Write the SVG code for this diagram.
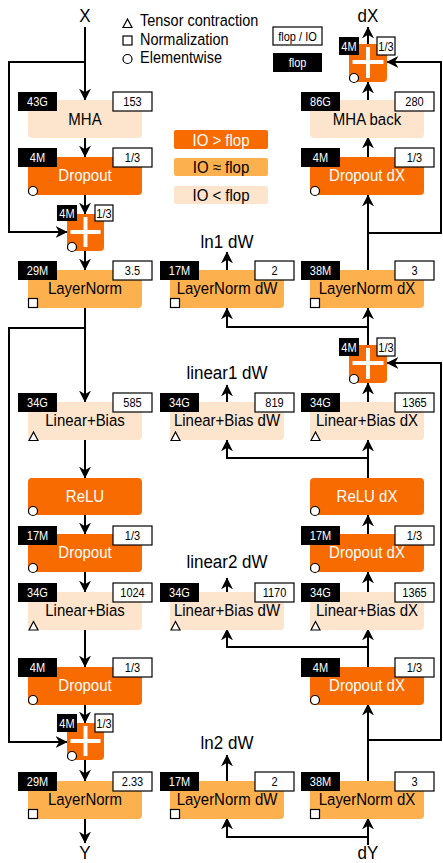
<svg xmlns="http://www.w3.org/2000/svg" width="443" height="863" viewBox="0 0 443 863">
<style>
text{font-family:"Liberation Sans",Arial,sans-serif;}
.hi{fill:#F76B00;}
.mid{fill:#FDB14E;}
.lo{fill:#FDE4CC;}
.nt{font-size:15px;text-anchor:middle;fill:#000;}
.nw{font-size:15px;text-anchor:middle;fill:#fff;}
.bl{fill:#000;}
.wl{fill:#fff;stroke:#000;stroke-width:1.2;}
.lt{font-size:11px;text-anchor:middle;}
.lw{fill:#fff;}
.lb{fill:#000;}
.mk{fill:#fff;stroke:#000;stroke-width:1.2;}
.plus{stroke:#fff;stroke-width:4;}
.c{fill:none;stroke:#000;stroke-width:2;}
.big{font-size:17px;text-anchor:middle;fill:#000;}
.leg{font-size:14.5px;fill:#000;}
</style>
<defs>
<marker id="ah" viewBox="0 0 10 10" refX="9.5" refY="5" markerWidth="12" markerHeight="12" markerUnits="userSpaceOnUse" orient="auto">
<path d="M0,0 L10,5 L0,10 L3,5 z" fill="#000"/>
</marker>
</defs>

<g id="legend">
<polygon class="mk" points="123,27.5 132,27.5 127.5,19"/>
<text class="leg" transform="translate(140,26) scale(1,1.12)">Tensor contraction</text>
<rect class="mk" x="123" y="36" width="9" height="9"/>
<text class="leg" transform="translate(140,45) scale(1,1.12)">Normalization</text>
<circle class="mk" cx="127.5" cy="59" r="4.5"/>
<text class="leg" transform="translate(140,63) scale(1,1.12)">Elementwise</text>
<rect class="wl" x="273" y="27" width="49" height="18"/>
<text class="lt lb" transform="translate(297.5,40.5) scale(1,1.15)">flop / IO</text>
<rect class="bl" x="273" y="53" width="49" height="19"/>
<text class="lt lw" transform="translate(297.5,67) scale(1,1.15)">flop</text>
<rect class="hi" x="174" y="130" width="94" height="19" rx="2"/>
<text class="nw" transform="translate(221,145.5) scale(1,1.12)">IO &gt; flop</text>
<rect class="mid" x="174" y="158" width="94" height="18" rx="2"/>
<text class="nt" transform="translate(221,173) scale(1,1.12)">IO ≈ flop</text>
<rect class="lo" x="174" y="186" width="94" height="18" rx="2"/>
<text class="nt" transform="translate(221,201) scale(1,1.12)">IO &lt; flop</text>
</g>

<g id="io-labels">
<text class="big" transform="translate(85,22) scale(1,1.12)">X</text>
<text class="big" transform="translate(85,859) scale(1,1.08)">Y</text>
<text class="big" transform="translate(368,22) scale(1,1.12)">dX</text>
<text class="big" transform="translate(368,859) scale(1,1.08)">dY</text>
<text class="big" transform="translate(227,248) scale(1,1.12)">ln1 dW</text>
<text class="big" transform="translate(227,379) scale(1,1.12)">linear1 dW</text>
<text class="big" transform="translate(227,568) scale(1,1.12)">linear2 dW</text>
<text class="big" transform="translate(227,749) scale(1,1.12)">ln2 dW</text>
</g>

<g id="connectors">
<line class="c" x1="85" y1="27" x2="85" y2="100" marker-end="url(#ah)"/>
<polyline class="c" points="85,62 9,62 9,232 67,232" marker-end="url(#ah)"/>
<line class="c" x1="85" y1="138" x2="85" y2="157" marker-end="url(#ah)"/>
<line class="c" x1="85" y1="195" x2="85" y2="214" marker-end="url(#ah)"/>
<line class="c" x1="85" y1="251" x2="85" y2="270" marker-end="url(#ah)"/>
<line class="c" x1="85" y1="308" x2="85" y2="402" marker-end="url(#ah)"/>
<polyline class="c" points="85,328 9,328 9,742 67,742" marker-end="url(#ah)"/>
<line class="c" x1="85" y1="440" x2="85" y2="478" marker-end="url(#ah)"/>
<line class="c" x1="85" y1="515" x2="85" y2="534" marker-end="url(#ah)"/>
<line class="c" x1="85" y1="572" x2="85" y2="592" marker-end="url(#ah)"/>
<line class="c" x1="85" y1="629" x2="85" y2="667" marker-end="url(#ah)"/>
<line class="c" x1="85" y1="704" x2="85" y2="723" marker-end="url(#ah)"/>
<line class="c" x1="85" y1="760" x2="85" y2="781" marker-end="url(#ah)"/>
<line class="c" x1="85" y1="818" x2="85" y2="843" marker-end="url(#ah)"/>

<line class="c" x1="227" y1="270" x2="227" y2="252" marker-end="url(#ah)"/>
<polyline class="c" points="368,327 227,327 227,308" marker-end="url(#ah)"/>
<line class="c" x1="227" y1="402" x2="227" y2="385" marker-end="url(#ah)"/>
<polyline class="c" points="368,458 227,458 227,440" marker-end="url(#ah)"/>
<line class="c" x1="227" y1="592" x2="227" y2="578" marker-end="url(#ah)"/>
<polyline class="c" points="368,647 227,647 227,629" marker-end="url(#ah)"/>
<line class="c" x1="227" y1="781" x2="227" y2="755" marker-end="url(#ah)"/>
<polyline class="c" points="368,837 227,837 227,818" marker-end="url(#ah)"/>

<line class="c" x1="368" y1="44" x2="368" y2="27" marker-end="url(#ah)"/>
<line class="c" x1="368" y1="100" x2="368" y2="82" marker-end="url(#ah)"/>
<line class="c" x1="368" y1="157" x2="368" y2="137" marker-end="url(#ah)"/>
<line class="c" x1="368" y1="270" x2="368" y2="195" marker-end="url(#ah)"/>
<polyline class="c" points="368,233 441,233 441,62 387,62" marker-end="url(#ah)"/>
<line class="c" x1="368" y1="345" x2="368" y2="308" marker-end="url(#ah)"/>
<line class="c" x1="368" y1="402" x2="368" y2="383" marker-end="url(#ah)"/>
<polyline class="c" points="368,740 441,740 441,363 387,363" marker-end="url(#ah)"/>
<line class="c" x1="368" y1="478" x2="368" y2="440" marker-end="url(#ah)"/>
<line class="c" x1="368" y1="534" x2="368" y2="515" marker-end="url(#ah)"/>
<line class="c" x1="368" y1="592" x2="368" y2="572" marker-end="url(#ah)"/>
<line class="c" x1="368" y1="667" x2="368" y2="629" marker-end="url(#ah)"/>
<line class="c" x1="368" y1="781" x2="368" y2="704" marker-end="url(#ah)"/>
<line class="c" x1="368" y1="845" x2="368" y2="818" marker-end="url(#ah)"/>
</g>

<!-- Left column -->
<g id="mha">
<rect class="lo" x="28" y="100" width="114" height="38" rx="4"/>
<text class="nt" transform="translate(85,125) scale(1,1.12)">MHA</text>
<rect class="bl" x="18" y="92" width="39" height="19"/><text class="lt lw" transform="translate(37.5,106) scale(1,1.15)">43G</text>
<rect class="wl" x="113" y="92" width="39" height="19"/><text class="lt lb" transform="translate(132.5,106) scale(1,1.15)">153</text>
</g>
<g id="dropout1">
<rect class="hi" x="28" y="157" width="114" height="38" rx="4"/>
<text class="nw" transform="translate(85,181) scale(1,1.12)">Dropout</text>
<rect class="bl" x="18" y="148" width="39" height="19"/><text class="lt lw" transform="translate(37.5,162) scale(1,1.15)">4M</text>
<rect class="wl" x="113" y="148" width="39" height="19"/><text class="lt lb" transform="translate(132.5,162) scale(1,1.15)">1/3</text>
<circle class="mk" cx="33" cy="191" r="4.5"/>
</g>
<g id="add1">
<rect class="hi" x="67" y="214" width="37" height="37" rx="4"/>
<line class="plus" x1="85.5" y1="217" x2="85.5" y2="247"/>
<line class="plus" x1="70.5" y1="232" x2="100.5" y2="232"/>
<rect class="bl" x="57" y="205" width="20" height="16"/><text class="lt lw" transform="translate(67,217.5) scale(1,1.15)">4M</text>
<rect class="wl" x="95" y="205" width="18" height="16"/><text class="lt lb" transform="translate(104,217.5) scale(1,1.15)">1/3</text>
<circle class="mk" cx="72" cy="247" r="4.5"/>
</g>
<g id="ln1">
<rect class="mid" x="28" y="270" width="114" height="38" rx="4"/>
<text class="nt" transform="translate(85,294) scale(1,1.12)">LayerNorm</text>
<rect class="bl" x="18" y="261" width="39" height="19"/><text class="lt lw" transform="translate(37.5,275) scale(1,1.15)">29M</text>
<rect class="wl" x="113" y="261" width="39" height="19"/><text class="lt lb" transform="translate(132.5,275) scale(1,1.15)">3.5</text>
<rect class="mk" x="28.5" y="298.5" width="9" height="9"/>
</g>
<g id="linear1">
<rect class="lo" x="28" y="402" width="114" height="38" rx="4"/>
<text class="nt" transform="translate(85,426) scale(1,1.12)">Linear+Bias</text>
<rect class="bl" x="18" y="393" width="39" height="19"/><text class="lt lw" transform="translate(37.5,407) scale(1,1.15)">34G</text>
<rect class="wl" x="113" y="393" width="39" height="19"/><text class="lt lb" transform="translate(132.5,407) scale(1,1.15)">585</text>
<polygon class="mk" points="29,440.5 38,440.5 33.5,432"/>
</g>
<g id="relu">
<rect class="hi" x="28" y="478" width="114" height="37" rx="4"/>
<text class="nw" transform="translate(85,502) scale(1,1.12)">ReLU</text>
<circle class="mk" cx="33" cy="511" r="4.5"/>
</g>
<g id="dropout2">
<rect class="hi" x="28" y="534" width="114" height="38" rx="4"/>
<text class="nw" transform="translate(85,558) scale(1,1.12)">Dropout</text>
<rect class="bl" x="18" y="526" width="39" height="19"/><text class="lt lw" transform="translate(37.5,540) scale(1,1.15)">17M</text>
<rect class="wl" x="113" y="526" width="39" height="19"/><text class="lt lb" transform="translate(132.5,540) scale(1,1.15)">1/3</text>
<circle class="mk" cx="33" cy="568" r="4.5"/>
</g>
<g id="linear2">
<rect class="lo" x="28" y="592" width="114" height="38" rx="4"/>
<text class="nt" transform="translate(85,616) scale(1,1.12)">Linear+Bias</text>
<rect class="bl" x="18" y="583" width="39" height="19"/><text class="lt lw" transform="translate(37.5,597) scale(1,1.15)">34G</text>
<rect class="wl" x="113" y="583" width="39" height="19"/><text class="lt lb" transform="translate(132.5,597) scale(1,1.15)">1024</text>
<polygon class="mk" points="29,630 38,630 33.5,621.5"/>
</g>
<g id="dropout3">
<rect class="hi" x="28" y="667" width="114" height="38" rx="4"/>
<text class="nw" transform="translate(85,691) scale(1,1.12)">Dropout</text>
<rect class="bl" x="18" y="658" width="39" height="19"/><text class="lt lw" transform="translate(37.5,672) scale(1,1.15)">4M</text>
<rect class="wl" x="113" y="658" width="39" height="19"/><text class="lt lb" transform="translate(132.5,672) scale(1,1.15)">1/3</text>
<circle class="mk" cx="33" cy="700" r="4.5"/>
</g>
<g id="add2">
<rect class="hi" x="67" y="723" width="37" height="37" rx="4"/>
<line class="plus" x1="85.5" y1="726" x2="85.5" y2="756"/>
<line class="plus" x1="70.5" y1="741" x2="100.5" y2="741"/>
<rect class="bl" x="57" y="714" width="20" height="18"/><text class="lt lw" transform="translate(67,727.5) scale(1,1.15)">4M</text>
<rect class="wl" x="95" y="714" width="18" height="18"/><text class="lt lb" transform="translate(104,727.5) scale(1,1.15)">1/3</text>
<circle class="mk" cx="72" cy="756" r="4.5"/>
</g>
<g id="ln2">
<rect class="mid" x="28" y="781" width="114" height="38" rx="4"/>
<text class="nt" transform="translate(85,805) scale(1,1.12)">LayerNorm</text>
<rect class="bl" x="18" y="772" width="39" height="19"/><text class="lt lw" transform="translate(37.5,786) scale(1,1.15)">29M</text>
<rect class="wl" x="113" y="772" width="39" height="19"/><text class="lt lb" transform="translate(132.5,786) scale(1,1.15)">2.33</text>
<rect class="mk" x="28.5" y="809.5" width="9" height="9"/>
</g>

<!-- Center column -->
<g id="ln1-dw">
<rect class="mid" x="170" y="270" width="114" height="38" rx="4"/>
<text class="nt" transform="translate(227,294) scale(1,1.12)">LayerNorm dW</text>
<rect class="bl" x="160" y="261" width="39" height="19"/><text class="lt lw" transform="translate(179.5,275) scale(1,1.15)">17M</text>
<rect class="wl" x="255" y="261" width="39" height="19"/><text class="lt lb" transform="translate(274.5,275) scale(1,1.15)">2</text>
<rect class="mk" x="170.5" y="298.5" width="9" height="9"/>
</g>
<g id="linear1-dw">
<rect class="lo" x="170" y="402" width="114" height="38" rx="4"/>
<text class="nt" transform="translate(227,426) scale(1,1.12)">Linear+Bias dW</text>
<rect class="bl" x="160" y="393" width="39" height="19"/><text class="lt lw" transform="translate(179.5,407) scale(1,1.15)">34G</text>
<rect class="wl" x="255" y="393" width="39" height="19"/><text class="lt lb" transform="translate(274.5,407) scale(1,1.15)">819</text>
<polygon class="mk" points="171,440.5 180,440.5 175.5,432"/>
</g>
<g id="linear2-dw">
<rect class="lo" x="170" y="592" width="114" height="38" rx="4"/>
<text class="nt" transform="translate(227,616) scale(1,1.12)">Linear+Bias dW</text>
<rect class="bl" x="160" y="583" width="39" height="19"/><text class="lt lw" transform="translate(179.5,597) scale(1,1.15)">34G</text>
<rect class="wl" x="255" y="583" width="39" height="19"/><text class="lt lb" transform="translate(274.5,597) scale(1,1.15)">1170</text>
<polygon class="mk" points="171,630 180,630 175.5,621.5"/>
</g>
<g id="ln2-dw">
<rect class="mid" x="170" y="781" width="114" height="38" rx="4"/>
<text class="nt" transform="translate(227,805) scale(1,1.12)">LayerNorm dW</text>
<rect class="bl" x="160" y="772" width="39" height="19"/><text class="lt lw" transform="translate(179.5,786) scale(1,1.15)">17M</text>
<rect class="wl" x="255" y="772" width="39" height="19"/><text class="lt lb" transform="translate(274.5,786) scale(1,1.15)">2</text>
<rect class="mk" x="170.5" y="809.5" width="9" height="9"/>
</g>

<!-- Right column -->
<g id="add1-dx">
<rect class="hi" x="349" y="44" width="38" height="38" rx="4"/>
<line class="plus" x1="368" y1="47" x2="368" y2="78"/>
<line class="plus" x1="352.5" y1="62" x2="383.5" y2="62"/>
<rect class="bl" x="339" y="37" width="20" height="18"/><text class="lt lw" transform="translate(349,50.5) scale(1,1.15)">4M</text>
<rect class="wl" x="377" y="37" width="18" height="18"/><text class="lt lb" transform="translate(386,50.5) scale(1,1.15)">1/3</text>
<circle class="mk" cx="354" cy="78" r="4.5"/>
</g>
<g id="mha-back">
<rect class="lo" x="310" y="100" width="114" height="38" rx="4"/>
<text class="nt" transform="translate(367,125) scale(1,1.12)">MHA back</text>
<rect class="bl" x="301" y="92" width="39" height="19"/><text class="lt lw" transform="translate(320.5,106) scale(1,1.15)">86G</text>
<rect class="wl" x="395" y="92" width="39" height="19"/><text class="lt lb" transform="translate(414.5,106) scale(1,1.15)">280</text>
</g>
<g id="dropout1-dx">
<rect class="hi" x="310" y="157" width="114" height="38" rx="4"/>
<text class="nw" transform="translate(367,181) scale(1,1.12)">Dropout dX</text>
<rect class="bl" x="301" y="148" width="39" height="19"/><text class="lt lw" transform="translate(320.5,162) scale(1,1.15)">4M</text>
<rect class="wl" x="395" y="148" width="39" height="19"/><text class="lt lb" transform="translate(414.5,162) scale(1,1.15)">1/3</text>
<circle class="mk" cx="315" cy="191" r="4.5"/>
</g>
<g id="ln1-dx">
<rect class="mid" x="310" y="270" width="114" height="38" rx="4"/>
<text class="nt" transform="translate(367,294) scale(1,1.12)">LayerNorm dX</text>
<rect class="bl" x="301" y="261" width="39" height="19"/><text class="lt lw" transform="translate(320.5,275) scale(1,1.15)">38M</text>
<rect class="wl" x="395" y="261" width="39" height="19"/><text class="lt lb" transform="translate(414.5,275) scale(1,1.15)">3</text>
<rect class="mk" x="310.5" y="298.5" width="9" height="9"/>
</g>
<g id="add2-dx">
<rect class="hi" x="349" y="345" width="38" height="38" rx="4"/>
<line class="plus" x1="368" y1="348" x2="368" y2="379"/>
<line class="plus" x1="352.5" y1="363" x2="383.5" y2="363"/>
<rect class="bl" x="339" y="338" width="20" height="18"/><text class="lt lw" transform="translate(349,351.5) scale(1,1.15)">4M</text>
<rect class="wl" x="377" y="338" width="18" height="18"/><text class="lt lb" transform="translate(386,351.5) scale(1,1.15)">1/3</text>
<circle class="mk" cx="354" cy="379" r="4.5"/>
</g>
<g id="linear1-dx">
<rect class="lo" x="310" y="402" width="114" height="38" rx="4"/>
<text class="nt" transform="translate(367,426) scale(1,1.12)">Linear+Bias dX</text>
<rect class="bl" x="301" y="393" width="39" height="19"/><text class="lt lw" transform="translate(320.5,407) scale(1,1.15)">34G</text>
<rect class="wl" x="395" y="393" width="39" height="19"/><text class="lt lb" transform="translate(414.5,407) scale(1,1.15)">1365</text>
<polygon class="mk" points="311,440.5 320,440.5 315.5,432"/>
</g>
<g id="relu-dx">
<rect class="hi" x="310" y="478" width="114" height="37" rx="4"/>
<text class="nw" transform="translate(367,502) scale(1,1.12)">ReLU dX</text>
<circle class="mk" cx="315" cy="511" r="4.5"/>
</g>
<g id="dropout2-dx">
<rect class="hi" x="310" y="534" width="114" height="38" rx="4"/>
<text class="nw" transform="translate(367,558) scale(1,1.12)">Dropout dX</text>
<rect class="bl" x="301" y="526" width="39" height="19"/><text class="lt lw" transform="translate(320.5,540) scale(1,1.15)">17M</text>
<rect class="wl" x="395" y="526" width="39" height="19"/><text class="lt lb" transform="translate(414.5,540) scale(1,1.15)">1/3</text>
<circle class="mk" cx="315" cy="568" r="4.5"/>
</g>
<g id="linear2-dx">
<rect class="lo" x="310" y="592" width="114" height="38" rx="4"/>
<text class="nt" transform="translate(367,616) scale(1,1.12)">Linear+Bias dX</text>
<rect class="bl" x="301" y="583" width="39" height="19"/><text class="lt lw" transform="translate(320.5,597) scale(1,1.15)">34G</text>
<rect class="wl" x="395" y="583" width="39" height="19"/><text class="lt lb" transform="translate(414.5,597) scale(1,1.15)">1365</text>
<polygon class="mk" points="311,630 320,630 315.5,621.5"/>
</g>
<g id="dropout3-dx">
<rect class="hi" x="310" y="667" width="114" height="38" rx="4"/>
<text class="nw" transform="translate(367,691) scale(1,1.12)">Dropout dX</text>
<rect class="bl" x="301" y="658" width="39" height="19"/><text class="lt lw" transform="translate(320.5,672) scale(1,1.15)">4M</text>
<rect class="wl" x="395" y="658" width="39" height="19"/><text class="lt lb" transform="translate(414.5,672) scale(1,1.15)">1/3</text>
<circle class="mk" cx="315" cy="700" r="4.5"/>
</g>
<g id="ln2-dx">
<rect class="mid" x="310" y="781" width="114" height="38" rx="4"/>
<text class="nt" transform="translate(367,805) scale(1,1.12)">LayerNorm dX</text>
<rect class="bl" x="301" y="772" width="39" height="19"/><text class="lt lw" transform="translate(320.5,786) scale(1,1.15)">38M</text>
<rect class="wl" x="395" y="772" width="39" height="19"/><text class="lt lb" transform="translate(414.5,786) scale(1,1.15)">3</text>
<rect class="mk" x="310.5" y="809.5" width="9" height="9"/>
</g>
</svg>
